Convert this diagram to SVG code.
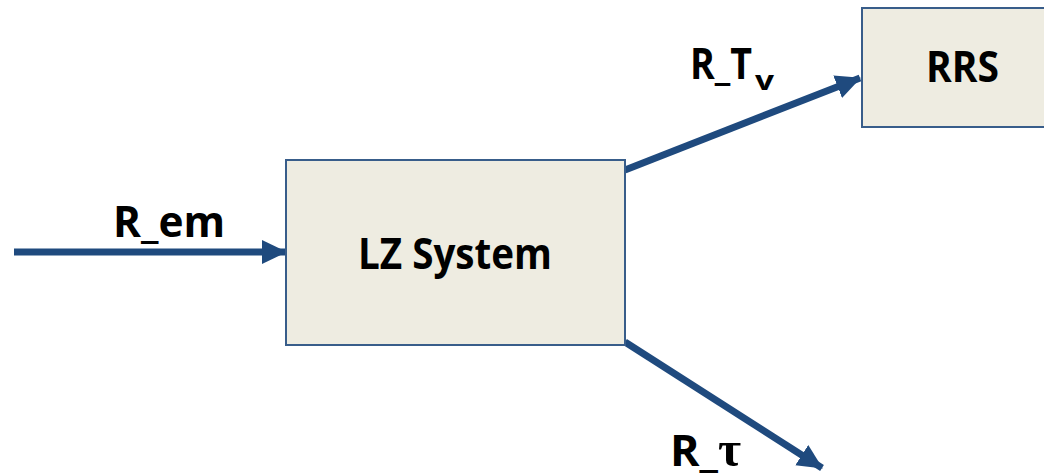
<svg xmlns="http://www.w3.org/2000/svg" width="1044" height="475" viewBox="0 0 1044 475">
<style>
.box{fill:#EEECE1;stroke:#385D8A;stroke-width:2}
.lbl{font-family:"Open Sans","Liberation Sans",sans-serif;font-weight:bold;font-size:43px;fill:#000}
.conn{stroke:#1F4A7E;stroke-width:7;fill:none}
</style>
<defs>
<marker id="ah" markerUnits="userSpaceOnUse" markerWidth="26" markerHeight="26" viewBox="0 0 26 26" refX="24" refY="13" orient="auto">
<path d="M0,1 L25,13 L0,25 Z" fill="#1F4A7E"/>
</marker>
</defs>
<g id="connectors">
<line class="conn" x1="14" y1="252" x2="286" y2="252" marker-end="url(#ah)"/>
<line class="conn" x1="625" y1="170" x2="860" y2="78" marker-end="url(#ah)"/>
<line class="conn" x1="625" y1="342" x2="822" y2="468" marker-end="url(#ah)"/>
</g>
<g id="node-lz">
<rect class="box" x="286" y="160" width="339" height="185"/>
<text class="lbl" x="358" y="269" textLength="194" lengthAdjust="spacingAndGlyphs">LZ System</text>
</g>
<g id="node-rrs">
<rect class="box" x="862" y="8" width="200" height="119"/>
<text class="lbl" x="926" y="82" textLength="73" lengthAdjust="spacingAndGlyphs">RRS</text>
</g>
<g id="labels">
<text class="lbl" x="690" y="79" textLength="62" lengthAdjust="spacingAndGlyphs">R_T</text>
<text class="lbl" x="755" y="90" style="font-size:26px" textLength="19" lengthAdjust="spacingAndGlyphs">v</text>
<text class="lbl" x="113" y="237" textLength="112" lengthAdjust="spacingAndGlyphs">R_em</text>
<text class="lbl" x="670" y="466" textLength="48" lengthAdjust="spacingAndGlyphs">R_</text>
<text x="718" y="466" font-family="'Liberation Serif',serif" font-weight="bold" font-size="50" fill="#000">τ</text>
</g>
</svg>
